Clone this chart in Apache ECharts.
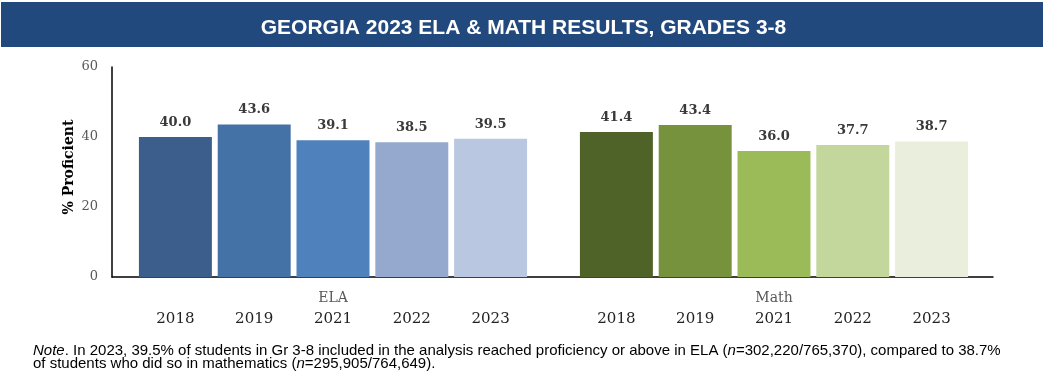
<!DOCTYPE html>
<html>
<head>
<meta charset="utf-8">
<script src="https://cdn.jsdelivr.net/npm/echarts@6/dist/echarts.min.js"></script>
<style>
html,body{margin:0;padding:0;background:#fff;}
#c{width:1047px;height:376px;}
</style>
</head>
<body>
<div id="c"></div>
<script>
// ---- data ----
const years = ['2018', '2019', '2021', '2022', '2023'];
const elaValues = [40.0, 43.6, 39.1, 38.5, 39.5];
const mathValues = [41.4, 43.4, 36.0, 37.7, 38.7];
const groupNames = ['ELA', 'Math'];
const yTicks = [0, 20, 40, 60];
const titleText = 'GEORGIA 2023 ELA & MATH RESULTS, GRADES 3-8';
const yTitle = '% Proficient';

// ---- styles ----
const elaColors = ['#3B5E8C', '#4572A6', '#4F81BD', '#95A9CF', '#B9C7E0'];
const mathColors = ['#4F6228', '#76923C', '#9BBB59', '#C3D69B', '#EAEEDC'];
const serif = '"DejaVu Serif", serif';
const sans = '"Liberation Sans", Arial, sans-serif';

const chart = echarts.init(document.getElementById('c'));

function barSeries(values, colors, idx) {
  return {
    type: 'bar',
    xAxisIndex: idx,
    yAxisIndex: idx,
    barWidth: '92.6%',
    data: values.map((v, i) => ({ value: v, itemStyle: { color: colors[i] } })),
    label: {
      show: true,
      position: 'top',
      distance: 8,
      formatter: p => p.value.toFixed(1),
      fontFamily: serif,
      fontWeight: 'bold',
      fontSize: 13,
      color: '#3a3a3a'
    },
    silent: true,
    animation: false
  };
}

function groupAxis(gi, name) {
  return {
    type: 'category',
    gridIndex: gi,
    data: years,
    axisLine: { show: false },
    axisTick: { show: false },
    axisLabel: { margin: 35, fontFamily: serif, fontSize: 15, color: '#222' },
    name: name,
    nameLocation: 'middle',
    nameGap: 21,
    nameMoveOverlap: false,
    nameTextStyle: { fontFamily: serif, fontSize: 14, color: '#595959', verticalAlign: 'middle' }
  };
}

const yMin = yTicks[0], yMax = yTicks[yTicks.length - 1], yStep = yTicks[1] - yTicks[0];

chart.setOption({
  animation: false,
  title: {
    text: titleText,
    left: 'center',
    top: 13,
    textStyle: { color: '#fff', fontFamily: sans, fontWeight: 'bold', fontSize: 21 }
  },
  graphic: [
    { type: 'rect', z: -1, shape: { x: 1, y: 2, width: 1042, height: 45 }, style: { fill: '#21497D' } },
    {
      type: 'text', left: 33, top: 343,
      style: {
        text: '{i|Note}. In 2023, 39.5% of students in Gr 3-8 included in the analysis reached proficiency or above in ELA ({i|n}=302,220/765,370), compared to 38.7%\nof students who did so in mathematics ({i|n}=295,905/764,649).',
        font: '15px "Liberation Sans", Arial, sans-serif',
        fill: '#000',
        lineHeight: 13,
        rich: { i: { fontStyle: 'italic', fontFamily: '"Liberation Sans", Arial, sans-serif', fontSize: 15, fill: '#000', lineHeight: 13 } }
      }
    }
  ],
  grid: [
    { left: 112, right: 54, top: 67, bottom: 99 },
    { left: 136, width: 394, top: 67, bottom: 99 },
    { left: 577, width: 394, top: 67, bottom: 99 }
  ],
  xAxis: [
    {
      type: 'value', gridIndex: 0, min: 0, max: 1,
      axisLine: { show: true, lineStyle: { color: '#000', width: 1.5 } },
      axisTick: { show: false }, axisLabel: { show: false }, splitLine: { show: false }
    },
    groupAxis(1, groupNames[0]),
    groupAxis(2, groupNames[1])
  ],
  yAxis: [
    {
      type: 'value', gridIndex: 0, min: yMin, max: yMax, interval: yStep,
      axisLine: { show: true, lineStyle: { color: '#000', width: 1.5 } },
      axisTick: { show: false },
      splitLine: { show: false },
      axisLabel: { margin: 14, fontFamily: serif, fontSize: 13, color: '#595959' },
      name: yTitle,
      nameLocation: 'middle',
      nameGap: 43,
      nameMoveOverlap: false,
      nameTextStyle: { fontFamily: serif, fontWeight: 'bold', fontSize: 14, color: '#000', verticalAlign: 'middle', padding: [0, 0, 0, 10] }
    },
    { type: 'value', gridIndex: 1, min: yMin, max: yMax, show: false },
    { type: 'value', gridIndex: 2, min: yMin, max: yMax, show: false }
  ],
  series: [
    barSeries(elaValues, elaColors, 1),
    barSeries(mathValues, mathColors, 2)
  ]
});
</script>
</body>
</html>
